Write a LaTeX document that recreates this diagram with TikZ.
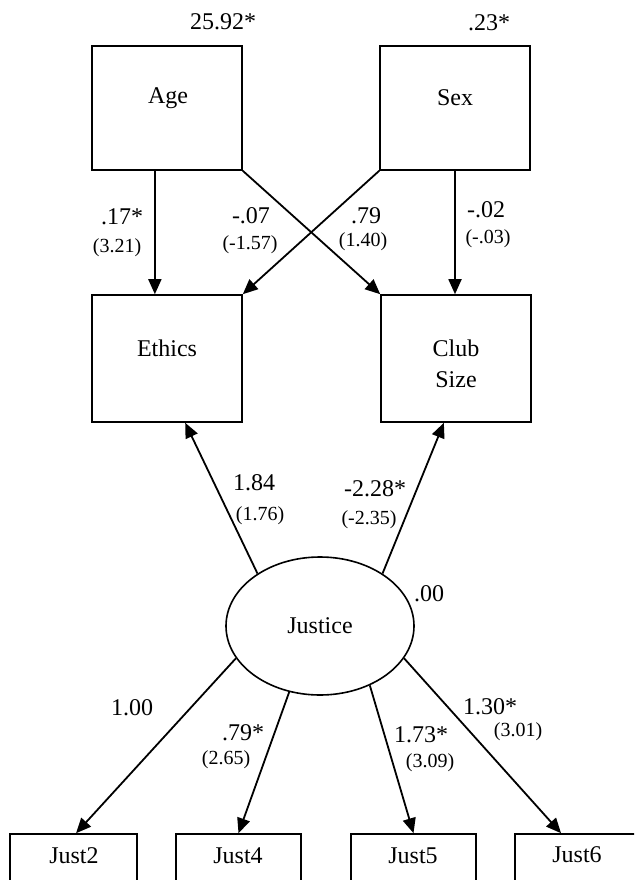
\documentclass[tikz,border=0pt]{standalone}
\usepackage{fontspec}
\setmainfont{Liberation Serif}
\usetikzlibrary{arrows.meta,shapes.geometric,calc}
\begin{document}
\begin{tikzpicture}[x=1pt,y=-1pt,
  box/.style={draw,line width=1.6pt,inner sep=0pt},
  big/.style={font=\fontsize{24}{31}\selectfont,inner sep=0pt,align=center},
  small/.style={font=\fontsize{20}{24}\selectfont,inner sep=0pt},
  arr/.style={line width=1.8pt,-{Triangle[length=15pt,width=13pt]}}]
\path[use as bounding box] (0,0) rectangle (634,880);
\clip (0,0) rectangle (634,880);

% boxes
\node[box,minimum width=150pt,minimum height=124pt] (age) at (167,108) {};
\node[box,minimum width=150pt,minimum height=124pt] (sex) at (455,108) {};
\node[box,minimum width=150pt,minimum height=127pt] (ethics) at (167,358.5) {};
\node[box,minimum width=150pt,minimum height=127pt] (club) at (456,358.5) {};
\node[box,ellipse,minimum width=188pt,minimum height=138pt,font=\fontsize{24}{30}\selectfont] (justice) at (320,626) {Justice};
\node[box,minimum width=127pt,minimum height=60pt] (just2) at (73.5,864) {};
\node[box,minimum width=125pt,minimum height=60pt] (just4) at (238.5,864) {};
\node[box,minimum width=125pt,minimum height=60pt] (just5) at (413.5,864) {};
\node[box,minimum width=125pt,minimum height=60pt] (just6) at (577.5,864) {};

% box texts
\node[big] (agetxt) at (168,98) {Age};
\node[big] (sextxt) at (455,98) {Sex};
\node[big] (ethicstxt) at (167,348) {Ethics};
\node[big] (clubtxt) at (456,363.5) {Club\\Size};
\node[big] (just2txt) at (74,856) {Just2};
\node[big] (just4txt) at (238,856) {Just4};
\node[big] (just5txt) at (413,856) {Just5};
\node[big] (just6txt) at (577,855) {Just6};

% connectors
\draw[arr] ($(age.south west)!0.42!(age.south east)$) -- ($(ethics.north west)!0.42!(ethics.north east)$);
\draw[arr] (age.south east) -- (club.north west);
\draw[arr] (sex.south west) -- (ethics.north east);
\draw[arr] (sex.south) -- (sex.south |- club.north);
\draw[arr] (justice.140) -- ($(ethics.south west)!0.62!(ethics.south east)$);
\draw[arr] (justice.40) -- ($(club.south west)!0.42!(club.south east)$);
\draw[arr] (justice.-159) -- ($(just2.north west)!0.52!(just2.north east)$);
\draw[arr] (justice.-115) -- (just4.north);
\draw[arr] (justice.-50) -- (just5.north);
\draw[arr] (justice.-21) -- ($(just6.north west)!0.37!(just6.north east)$);

% values
\node[big] (v1) at (223,22) {25.92*};
\node[big] (v2) at (489,23) {.23*};
\node[big] (v3) at (122,217) {.17*};
\node[small] (v3s) at (117,248) {(3.21)};
\node[big] (v4) at (251,216) {-.07};
\node[small] (v4s) at (250,245) {(-1.57)};
\node[big] (v5) at (366,216) {.79};
\node[small] (v5s) at (363,242) {(1.40)};
\node[big] (v6) at (486,210) {-.02};
\node[small] (v6s) at (488,239) {(-.03)};
\node[big] (v7) at (254,483) {1.84};
\node[small] (v7s) at (260,516) {(1.76)};
\node[big] (v8) at (375,489) {-2.28*};
\node[small] (v8s) at (369,520) {(-2.35)};
\node[big] (v9) at (429,594) {.00};
\node[big] (v10) at (132,708) {1.00};
\node[big] (v11) at (243,733) {.79*};
\node[small] (v11s) at (226,760) {(2.65)};
\node[big] (v12) at (421,735) {1.73*};
\node[small] (v12s) at (430,763) {(3.09)};
\node[big] (v13) at (490,707) {1.30*};
\node[small] (v13s) at (518,732) {(3.01)};
\end{tikzpicture}
\end{document}
